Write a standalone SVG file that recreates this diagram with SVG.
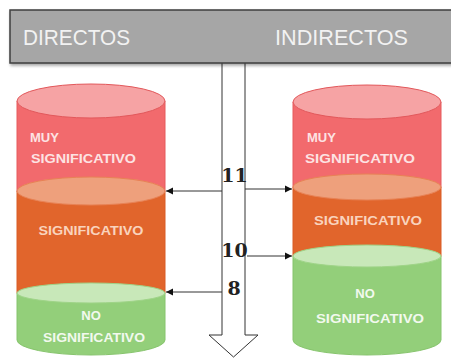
<svg xmlns="http://www.w3.org/2000/svg" width="451" height="358" viewBox="0 0 451 358">
<defs>
<marker id="ah" markerWidth="8" markerHeight="8" refX="7" refY="4" orient="auto" markerUnits="userSpaceOnUse">
<path d="M0,0.5 L7,4 L0,7.5 Z" fill="#111"/>
</marker>
<filter id="sh" x="-5%" y="-20%" width="110%" height="150%"><feDropShadow dx="1" dy="2" stdDeviation="1.5" flood-color="#000" flood-opacity="0.35"/></filter>
</defs>
<style>
.lbl{font-family:"Liberation Sans","DejaVu Sans",sans-serif;font-weight:bold;font-size:13px}
.hdr{font-family:"Liberation Sans","DejaVu Sans",sans-serif;font-size:22px;fill:#f2f2f2}
.num{font-family:"DejaVu Serif","Liberation Serif",serif;font-weight:bold;font-size:19px;fill:#222}
.red{fill:#f26a6d;stroke:#e65a5d;stroke-width:1}
.redtop{fill:#f6a3a4;stroke:#e2585b;stroke-width:1}
.org{fill:#e1652c;stroke:#d95d25;stroke-width:1}
.peach{fill:#eea07c;stroke:#e88255;stroke-width:1}
.grn{fill:#93cf7a;stroke:#86c46c;stroke-width:1}
.grntop{fill:#c8e8b9;stroke:#9fd488;stroke-width:1}
.conn{stroke:#333;stroke-width:1;fill:none}
</style>
<rect width="451" height="358" fill="#ffffff"/>

<g id="arrow">
<path d="M222,40 L245,40 L245,335 L258,335 L233.5,357 L209,335 L222,335 Z" fill="#ffffff" stroke="#333" stroke-width="1"/>
</g>

<g id="header">
<rect x="10" y="10" width="450" height="53" fill="#a6a6a6" stroke="#3f3f3f" stroke-width="1.5" filter="url(#sh)"/>
<text class="hdr" x="23" y="45" textLength="107" lengthAdjust="spacingAndGlyphs">DIRECTOS</text>
<text class="hdr" x="275" y="45" textLength="133" lengthAdjust="spacingAndGlyphs">INDIRECTOS</text>
</g>

<g id="left-cylinder">
<path class="red" d="M17,101 L17,191 A74,14 0 0 0 165,191 L165,101 Z"/>
<ellipse class="redtop" cx="91" cy="101" rx="74" ry="17"/>
<path class="org" d="M17,191 L17,293 A74,10 0 0 0 165,293 L165,191 Z"/>
<ellipse class="peach" cx="91" cy="191" rx="74" ry="14"/>
<path class="grn" d="M17,293 L17,340 A74,15 0 0 0 165,340 L165,293 Z"/>
<ellipse class="grntop" cx="91" cy="293" rx="74" ry="10"/>
<text class="lbl" x="30" y="142" fill="#fde3e3">MUY</text>
<text class="lbl" x="31" y="163" fill="#fde3e3" textLength="105" lengthAdjust="spacingAndGlyphs">SIGNIFICATIVO</text>
<text class="lbl" x="91" y="235" fill="#f9d3bd" text-anchor="middle" textLength="105" lengthAdjust="spacingAndGlyphs">SIGNIFICATIVO</text>
<text class="lbl" x="91" y="320" fill="#f2f9ee" text-anchor="middle">NO</text>
<text class="lbl" x="94" y="342" fill="#f2f9ee" text-anchor="middle" textLength="102" lengthAdjust="spacingAndGlyphs">SIGNIFICATIVO</text>
</g>

<g id="right-cylinder">
<path class="red" d="M293,102 L293,187 A74,13 0 0 0 441,187 L441,102 Z"/>
<ellipse class="redtop" cx="367" cy="102" rx="74" ry="17"/>
<path class="org" d="M293,187 L293,256 A74,11 0 0 0 441,256 L441,187 Z"/>
<ellipse class="peach" cx="367" cy="187" rx="74" ry="13"/>
<path class="grn" d="M293,256 L293,340 A74,15 0 0 0 441,340 L441,256 Z"/>
<ellipse class="grntop" cx="367" cy="256" rx="74" ry="11"/>
<text class="lbl" x="307" y="142" fill="#fde3e3">MUY</text>
<text class="lbl" x="305" y="163" fill="#fde3e3" textLength="110" lengthAdjust="spacingAndGlyphs">SIGNIFICATIVO</text>
<text class="lbl" x="368" y="225" fill="#f9d3bd" text-anchor="middle" textLength="108" lengthAdjust="spacingAndGlyphs">SIGNIFICATIVO</text>
<text class="lbl" x="365" y="298" fill="#f2f9ee" text-anchor="middle">NO</text>
<text class="lbl" x="370" y="323" fill="#f2f9ee" text-anchor="middle" textLength="108" lengthAdjust="spacingAndGlyphs">SIGNIFICATIVO</text>
</g>

<g id="connectors">
<line class="conn" x1="222" y1="191" x2="166" y2="191" marker-end="url(#ah)"/>
<line class="conn" x1="245" y1="189" x2="292" y2="189" marker-end="url(#ah)"/>
<line class="conn" x1="247" y1="256" x2="292" y2="256" marker-end="url(#ah)"/>
<line class="conn" x1="222" y1="292" x2="166" y2="292" marker-end="url(#ah)"/>
</g>

<g id="labels">
<text class="num" x="234.5" y="182" text-anchor="middle">11</text>
<text class="num" x="234.5" y="257" text-anchor="middle">10</text>
<text class="num" x="234" y="295" text-anchor="middle">8</text>
</g>
</svg>
